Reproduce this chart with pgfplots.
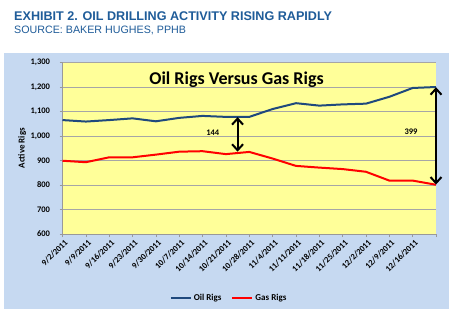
\documentclass[border=0pt]{standalone}
\usepackage{pgfplots}
\pgfplotsset{compat=1.18}
\usepackage{fontspec}
\setmainfont{Carlito}
\newfontfamily\arial{Liberation Sans}
\usetikzlibrary{arrows.meta}
\definecolor{bgblue}{HTML}{C6D9F1}
\definecolor{plotyellow}{HTML}{FFFF99}
\definecolor{oilblue}{HTML}{1F497D}
\definecolor{gasred}{HTML}{FF0000}
\definecolor{hdrblue}{HTML}{1F5C99}
\begin{document}
\begin{tikzpicture}
\fill[white] (0pt,0pt) rectangle (450pt,327pt);
\fill[bgblue] (4pt,18.3pt) rectangle (449pt,273.7pt);
\node[anchor=base west, font=\arial\bfseries\fontsize{12.6}{14}\selectfont, text=hdrblue, inner sep=0] at (14pt,306.3pt) {EXHIBIT 2. OIL DRILLING ACTIVITY RISING RAPIDLY};
\node[anchor=base west, font=\arial\fontsize{10.7}{12}\selectfont, text=hdrblue, inner sep=0] at (14pt,293pt) {SOURCE: BAKER HUGHES, PPHB};
\begin{axis}[
  at={(62.5pt,93pt)}, anchor=south west, scale only axis,
  width=373.5pt, height=171.5pt,
  xmin=0, xmax=16, ymin=600, ymax=1300,
  clip=false,
  axis background/.style={fill=plotyellow},
  axis lines*=left,
  axis line style={gray!80, line width=0.6pt},
  tick style={gray!80, line width=0.6pt},
  tick align=outside, major tick length=3pt,
  ymajorgrids, grid style={gray!70, line width=0.6pt},
  ytick={600,700,...,1300},
  xtick={0,...,16},
  xticklabels={9/2/2011,9/9/2011,9/16/2011,9/23/2011,9/30/2011,10/7/2011,10/14/2011,10/21/2011,10/28/2011,11/4/2011,11/11/2011,11/18/2011,11/25/2011,12/2/2011,12/9/2011,12/16/2011,},
  /pgf/number format/assume math mode=true,
  /pgf/number format/1000 sep={,},
  yticklabel style={font=\bfseries\fontsize{8.5}{10}\selectfont, anchor=east, xshift=-6pt},
  xticklabel style={font=\bfseries\fontsize{8.5}{10}\selectfont, rotate=45, anchor=east, yshift=-5.5pt, xshift=1pt, inner sep=1pt},
  ylabel={Active Rigs},
  ylabel style={font=\bfseries\fontsize{9}{10}\selectfont, at={(axis description cs:-0.108,0.5)}, anchor=center},
  legend style={at={(axis description cs:0.446,-0.373)}, anchor=center, draw=none, fill=none,
    legend columns=2, font=\bfseries\fontsize{9}{10}\selectfont,
    /tikz/every even column/.append style={column sep=8pt}},
  legend image code/.code={\draw[#1] (0pt,0pt) -- (20pt,0pt);},
]
\addplot[oilblue, line width=2pt] coordinates {
(0,1065) (1,1059) (2,1065) (3,1072) (4,1060) (5,1074) (6,1082) (7,1078) (8,1078)
(9,1110) (10,1134) (11,1124) (12,1129) (13,1132) (14,1160) (15,1196) (16,1200)};
\addlegendentry{Oil Rigs}
\addplot[gasred, line width=2pt] coordinates {
(0,899) (1,893) (2,913) (3,913) (4,924) (5,936) (6,938) (7,926) (8,935)
(9,908) (10,878) (11,871) (12,865) (13,854) (14,818) (15,818) (16,801)};
\addlegendentry{Gas Rigs}
\node[font=\bfseries\fontsize{18}{20}\selectfont] at (rel axis cs:0.466,0.898) {Oil Rigs Versus Gas Rigs};
\draw[{Straight Barb[length=6pt,width=11pt]}-{Straight Barb[length=6pt,width=11pt]}, line width=2pt] (axis cs:7.5,1077) -- (axis cs:7.5,936);
\draw[{Straight Barb[length=6pt,width=11pt]}-{Straight Barb[length=6pt,width=11pt]}, line width=2pt] (axis cs:16,1199) -- (axis cs:16,802);
\node[font=\bfseries\fontsize{8.5}{10}\selectfont] at (axis cs:6.44,1015) {144};
\node[font=\bfseries\fontsize{8.5}{10}\selectfont] at (axis cs:14.93,1019) {399};
\end{axis}
\end{tikzpicture}
\end{document}
